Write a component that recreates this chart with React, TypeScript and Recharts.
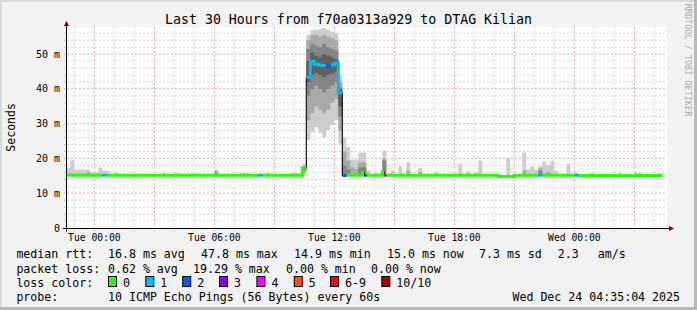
import React from "react";
import { ComposedChart, Area, Line, XAxis, YAxis, CartesianGrid } from "recharts";

const W = 697;
const H = 310;
const FONT = '"DejaVu Sans Mono", monospace';

// time in minutes relative to Tue 00:00
const T_START = -82;
const T_END = 1718;
const DATA_END = 1704;

const xLabelAt = [0, 360, 720, 1080, 1440];
const xLabels = ["Tue 00:00", "Tue 06:00", "Tue 12:00", "Tue 18:00", "Wed 00:00"];
const yLabelAt = [0, 10, 20, 30, 40, 50];
const yLabels = ["0", "10 m", "20 m", "30 m", "40 m", "50 m"];

// median rtt (ms) as steps, with loss class of each step
const medianStart = [-82, 24, 36, 492, 504, 624, 636, 648, 660, 672, 684, 696, 708, 720, 732, 744, 756, 804, 810, 816, 864, 870, 876, 1212, 1260, 1332, 1344, 1440, 1452];
const medianMs = [15.2, 15.2, 15.2, 15.2, 15.2, 17.3, 43.3, 47.9, 47.1, 46.8, 46.7, 46.4, 46.9, 47.4, 38.8, 15.1, 15.2, 16.0, 15.1, 15.2, 16.2, 15.1, 15.2, 14.8, 15.2, 15.2, 15.2, 15.2, 15.1];
const medianLoss = [0, 1, 0, 1, 0, 0, 1, 1, 1, 1, 1, 2, 1, 1, 1, 2, 0, 0, 3, 0, 0, 4, 0, 0, 0, 1, 0, 1, 0];

// smoke columns: outer range and inner bands (ms)
const smokeFrom = [-82, -72, -60, -24, -12, 12, 24, 36, 60, 204, 240, 288, 360, 432, 492, 516, 588, 624, 636, 648, 660, 672, 684, 696, 708, 720, 732, 744, 756, 768, 780, 792, 804, 816, 840, 864, 888, 912, 936, 972, 1020, 1092, 1116, 1140, 1152, 1236, 1284, 1296, 1308, 1320, 1332, 1344, 1356, 1368, 1380, 1416, 1440, 1488, 1572, 1620];
const smokeTo = [-72, -60, -24, -12, 12, 24, 36, 48, 72, 216, 252, 300, 372, 468, 504, 528, 612, 636, 648, 660, 672, 684, 696, 708, 720, 732, 744, 756, 768, 780, 792, 804, 816, 828, 852, 876, 900, 924, 948, 984, 1032, 1104, 1128, 1152, 1164, 1248, 1296, 1308, 1320, 1332, 1344, 1356, 1368, 1380, 1392, 1428, 1452, 1500, 1584, 1644];
const smokeMin = [15.0, 15.0, 15.0, 15.0, 15.0, 15.0, 15.0, 15.0, 15.0, 15.0, 15.0, 15.0, 15.0, 15.0, 15.0, 15.0, 15.0, 15.0, 25.3, 27.6, 29.0, 27.4, 26.0, 28.2, 29.7, 31.0, 24.2, 15.2, 15.2, 15.0, 15.0, 15.0, 15.0, 15.0, 15.0, 15.0, 15.0, 15.0, 15.0, 15.0, 15.0, 15.0, 15.0, 15.0, 15.0, 15.0, 15.0, 15.0, 15.0, 15.0, 15.0, 15.0, 15.0, 15.0, 15.0, 15.0, 15.0, 15.0, 15.0, 15.0];
const smokeMax = [17.3, 19.4, 16.8, 16.8, 16.0, 17.4, 16.5, 16.3, 15.8, 15.8, 15.8, 15.8, 16.8, 15.8, 15.6, 15.8, 15.8, 18.4, 55.5, 56.9, 57.0, 57.3, 57.5, 57.0, 56.5, 56.0, 44.0, 26.0, 23.3, 19.6, 19.6, 21.7, 21.7, 16.5, 15.8, 22.3, 16.5, 17.7, 18.9, 17.3, 16.0, 18.5, 16.3, 16.0, 19.4, 20.2, 21.7, 16.8, 17.7, 16.8, 17.7, 19.1, 18.2, 19.3, 16.5, 18.5, 15.9, 15.9, 15.9, 15.9];
const band2Low = [null, null, null, 15.1, null, null, null, null, null, null, null, null, 15.1, null, null, null, null, 15.8, 31, 33, 35, 34, 33, 34, 36, 37, 28, 15.4, 15.5, 15.4, 15.4, 15.4, 15.4, null, null, 15.4, null, null, 15.1, 15.1, null, null, null, null, null, null, 15.1, null, null, null, 15.0, null, 15.1, null, null, null, null, null, null, null];
const band2High = [null, null, null, 16.0, null, null, null, null, null, null, null, null, 16.3, null, null, null, null, 17.8, 54, 55.5, 55.5, 55, 55.5, 55, 54.5, 54, 42, 22.0, 19.4, 17.5, 17.0, 18.9, 18.9, null, null, 20.0, null, null, 16.3, 16.2, null, null, null, null, null, null, 16.5, null, null, null, 17.2, null, 16.0, null, null, null, null, null, null, null];
const band3Low = [null, null, null, null, null, null, null, null, null, null, null, null, null, null, null, null, null, 16.5, 38, 40, 41, 40, 39, 40, 41, 42, 32, 15.6, 15.6, null, null, 15.6, 15.6, null, null, 15.6, null, null, null, null, null, null, null, null, null, null, null, null, null, null, 15.0, null, null, null, null, null, null, null, null, null];
const band3High = [null, null, null, null, null, null, null, null, null, null, null, null, null, null, null, null, null, 17.5, 51.5, 53, 52.5, 52, 53, 52, 51.5, 51, 40.5, 18.0, 16.8, null, null, 17.5, 17.5, null, null, 19.5, null, null, null, null, null, null, null, null, null, null, null, null, null, null, 16.4, null, null, null, null, null, null, null, null, null];
const band4Low = [null, null, null, null, null, null, null, null, null, null, null, null, null, null, null, null, null, null, 42, 44, 44.5, 44, 43.5, 44, 44.5, 45, 35, null, null, null, null, null, null, null, null, null, null, null, null, null, null, null, null, null, null, null, null, null, null, null, null, null, null, null, null, null, null, null, null, null];
const band4High = [null, null, null, null, null, null, null, null, null, null, null, null, null, null, null, null, null, null, 48, 50.5, 49.5, 49, 50, 49.5, 49, 48.5, 39.8, null, null, null, null, null, null, null, null, null, null, null, null, null, null, null, null, null, null, null, null, null, null, null, null, null, null, null, null, null, null, null, null, null];

const lossColors = ["#26ff00", "#00b8ff", "#0059ff", "#7e00ff", "#ff00ff", "#ff5500", "#ff0000", "#a10000"];
const lossNames = ["0", "1", "2", "3", "4", "5", "6-9", "10/10"];
const smokeColors = ["#cdcdcd", "#a9a9a9", "#858585", "#5f5f5f"];

const rttStats = ["16.8 ms avg", "47.8 ms max", "14.9 ms min", "15.0 ms now", "7.3 ms sd", "2.3", "am/s"];
const lossStats = ["0.62 % avg", "19.29 % max", "0.00 % min", "0.00 % now"];
const probeText = "10 ICMP Echo Pings (56 Bytes) every 60s";
const stamp = "Wed Dec 24 04:35:04 2025";

const EPS = 0.05;

function range(lo: (number | null)[], hi: (number | null)[], i: number) {
    if (i < 0 || lo[i] == null || hi[i] == null) return null;
    return [lo[i] as number, hi[i] as number];
}

function buildRows() {
    const cuts = Array.from(new Set([...medianStart, DATA_END, ...smokeFrom, ...smokeTo])).sort((a, b) => a - b);
    const rows: Record<string, any>[] = [];
    for (let i = 0; i < cuts.length - 1; i++) {
        const a = cuts[i];
        const b = cuts[i + 1];
        if (a >= DATA_END) break;
        let m = 0;
        medianStart.forEach((s, k) => {
            if (s <= a) m = k;
        });
        const s = smokeFrom.findIndex((f, k) => f <= a && a < smokeTo[k]);
        const row: Record<string, any> = {
            med: medianMs[m],
            b1: range(smokeMin, smokeMax, s),
            b2: range(band2Low, band2High, s),
            b3: range(band3Low, band3High, s),
            b4: range(band4Low, band4High, s),
        };
        lossColors.forEach((_, k) => {
            row["m" + k] = medianLoss[m] === k ? medianMs[m] : null;
        });
        rows.push({ t: a, ...row }, { t: b - EPS, ...row });
    }
    return rows;
}

const rows = buildRows();

const hourTicks: number[] = [];
for (let t = -60; t <= 1680; t += 60) hourTicks.push(t);
const minorV = hourTicks.filter((t) => t % 180 !== 0);
const majorV = hourTicks.filter((t) => t % 180 === 0);
const yTicks: number[] = [];
for (let v = 0; v <= 56; v += 2) yTicks.push(v);
const minorH = yTicks.filter((v) => v % 10 !== 0);
const majorH = yTicks.filter((v) => v % 10 === 0 && v > 0);

export default function App() {
    const rttX = [108, 201, 294, 387, 479, 557.8, 597.8];
    const lossX = [108, 193, 286, 371];
    const boxX = [108, 145.3, 182.2, 219, 256.4, 293.8, 330, 381.3];

    return (
        <div
            style={{
                position: "absolute",
                left: 0,
                top: 0,
                width: W,
                height: H,
                background: "#f2f2f2",
                overflow: "hidden",
            }}
        >
            <ComposedChart
                width={W}
                height={H}
                data={rows}
                margin={{ top: 27, right: 30, bottom: 0, left: 0 }}
            >
                <CartesianGrid
                    fill="#ffffff"
                    stroke="#d4d4d4"
                    strokeDasharray="2 2"
                    horizontalValues={minorH}
                    verticalValues={minorV}
                />
                <CartesianGrid
                    fill="none"
                    stroke="#eea4a4"
                    strokeDasharray="2 2"
                    horizontalValues={majorH}
                    verticalValues={majorV}
                />
                <XAxis
                    dataKey="t"
                    type="number"
                    domain={[T_START, T_END]}
                    allowDataOverflow
                    ticks={hourTicks}
                    interval={0}
                    height={82}
                    axisLine={false}
                    tickSize={3}
                    tickMargin={3}
                    tickLine={{ stroke: "#c4c4c4" }}
                    tick={{ fontSize: 9.7, fill: "#000", fontFamily: FONT }}
                    tickFormatter={(v: number) => {
                        const i = xLabelAt.indexOf(v);
                        return i >= 0 ? xLabels[i] : "";
                    }}
                />
                <YAxis
                    type="number"
                    domain={[0, 57.8]}
                    allowDataOverflow
                    ticks={yTicks}
                    interval={0}
                    width={67}
                    axisLine={false}
                    tickSize={3}
                    tickMargin={4}
                    tickLine={{ stroke: "#c4c4c4" }}
                    tick={{ fontSize: 10, fill: "#000", fontFamily: FONT }}
                    tickFormatter={(v: number) => {
                        const i = yLabelAt.indexOf(v);
                        return i >= 0 ? yLabels[i] : "";
                    }}
                />
                {["b1", "b2", "b3", "b4"].map((k, i) => (
                    <Area
                        key={k}
                        dataKey={k}
                        type="linear"
                        stroke="none"
                        fill={smokeColors[i]}
                        fillOpacity={1}
                        dot={false}
                        activeDot={false}
                        isAnimationActive={false}
                    />
                ))}
                <Line
                    dataKey="med"
                    type="linear"
                    stroke="#111111"
                    strokeWidth={1.2}
                    dot={false}
                    activeDot={false}
                    isAnimationActive={false}
                />
                {lossColors.map((c, k) => (
                    <Line
                        key={"m" + k}
                        dataKey={"m" + k}
                        type="linear"
                        stroke={c}
                        strokeWidth={3}
                        strokeLinecap="butt"
                        dot={false}
                        activeDot={false}
                        isAnimationActive={false}
                    />
                ))}
            </ComposedChart>
            <svg
                width={W}
                height={H}
                style={{ position: "absolute", left: 0, top: 0, pointerEvents: "none" }}
                fontFamily={FONT}
            >
                {/* frame shading */}
                <rect x={0} y={0} width={W} height={2} fill="#dadada" />
                <rect x={0} y={0} width={2} height={H} fill="#dadada" />
                <rect x={W - 3} y={0} width={3} height={H} fill="#b9b9b9" />
                <rect x={0} y={H - 3} width={W} height={3} fill="#b9b9b9" />

                {/* axes with arrows */}
                <line x1={66.5} y1={231.5} x2={66.5} y2={24} stroke="#000" strokeWidth={1} />
                <line x1={63} y1={228.5} x2={670} y2={228.5} stroke="#000" strokeWidth={1} />
                <polygon points="64,26 69,26 66.5,21" fill="#7f0000" />
                <polygon points="669,226 669,231 674,228.5" fill="#7f0000" />

                <text x={348.5} y={24} textAnchor="middle" fontSize={13.25} fill="#000">
                    Last 30 Hours from f70a0313a929 to DTAG Kilian
                </text>
                <text transform="translate(14.5,127.4) rotate(-90)" textAnchor="middle" fontSize={11.5} fill="#000">
                    Seconds
                </text>
                <text transform="translate(685,60) rotate(90)" textAnchor="middle" fontSize={8.5} fill="#ababab">
                    RRDTOOL / TOBI OETIKER
                </text>

                <g fontSize={11.6} fill="#000">
                    <text x={16.4} y={258.3}>median rtt:</text>
                    {rttStats.map((s, i) => (
                        <text key={s} x={rttX[i]} y={258.3}>{s}</text>
                    ))}
                    <text x={16.4} y={272.5}>packet loss:</text>
                    {lossStats.map((s, i) => (
                        <text key={s} x={lossX[i]} y={272.5}>{s}</text>
                    ))}
                    <text x={16.4} y={286.7}>loss color:</text>
                    {lossNames.map((n, i) => (
                        <g key={n}>
                            <rect x={boxX[i] + 0.5} y={276.5} width={8} height={10} fill={lossColors[i]} stroke="#000" strokeWidth={1} />
                            <text x={boxX[i] + 15} y={286.7}>{n}</text>
                        </g>
                    ))}
                    <text x={16.4} y={300.9}>probe:</text>
                    <text x={108} y={300.9}>{probeText}</text>
                    <text x={680} y={300.9} textAnchor="end">{stamp}</text>
                </g>
            </svg>
        </div>
    );
}
